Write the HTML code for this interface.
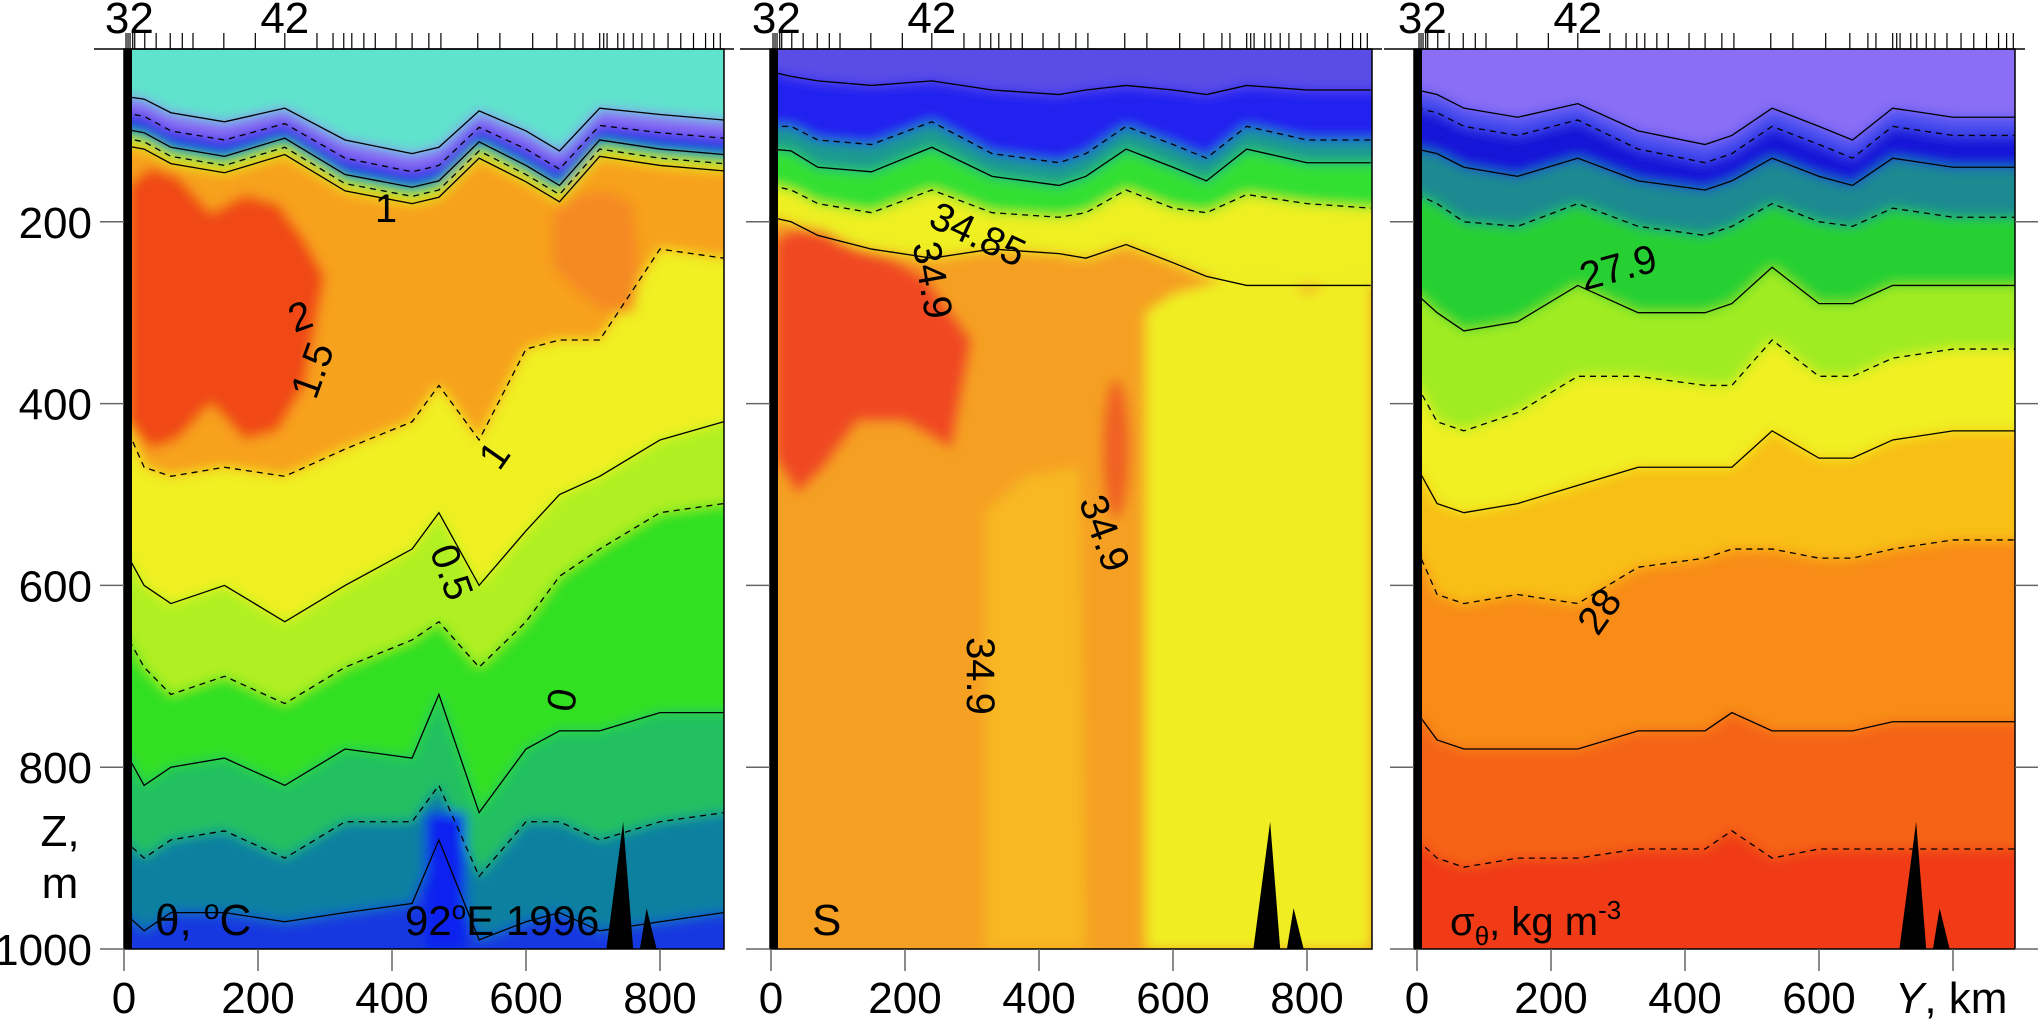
<!DOCTYPE html>
<html><head><meta charset="utf-8"><style>
html,body{margin:0;padding:0;background:#fff;width:2038px;height:1024px;overflow:hidden}
svg{display:block;position:absolute;left:0;top:0;font-family:"Liberation Sans",sans-serif}
</style></head><body>
<svg id="fig" width="2038" height="1024" viewBox="0 0 2038 1024">
<defs>
<filter id="soft" x="-5%" y="-5%" width="110%" height="110%"><feGaussianBlur stdDeviation="6"/></filter>
<clipPath id="c1"><rect x="124" y="49" width="600" height="900"/></clipPath>
<clipPath id="c2"><rect x="770" y="49" width="602" height="900"/></clipPath>
<clipPath id="c3"><rect x="1414" y="49" width="601" height="900"/></clipPath>
</defs>
<g id="root"></g>
<g id="labels">
<g font-size="44">
<text x="60" y="846" text-anchor="middle">Z,</text>
<text x="60" y="898" text-anchor="middle">m</text>
<text x="1895" y="1013"><tspan font-style="italic">Y</tspan>, km</text>
<text x="155" y="935">θ, <tspan font-size="28" dy="-16">o</tspan><tspan dy="16">C</tspan></text>
<text x="405" y="935" font-size="42">92<tspan font-size="26" dy="-16">o</tspan><tspan dy="16">E  1996</tspan></text>
<text x="812" y="935">S</text>
<text x="1450" y="935" font-size="40">σ<tspan font-size="26" dy="10">θ</tspan><tspan dy="-10">, kg m</tspan><tspan font-size="26" dy="-16">-3</tspan></text>
</g>
<g font-size="40">
<text x="386" y="222" text-anchor="middle">1</text>
<text x="300" y="330" text-anchor="middle" transform="rotate(-20 300 316)">2</text>
<text x="312" y="384" text-anchor="middle" transform="rotate(-70 312 370)">1.5</text>
<text x="494" y="469" text-anchor="middle" transform="rotate(-55 494 455)">1</text>
<text x="452" y="586" text-anchor="middle" transform="rotate(70 452 572)">0.5</text>
<text x="562" y="714" text-anchor="middle" transform="rotate(100 562 700)">0</text>
<text x="978" y="248" text-anchor="middle" transform="rotate(25 978 234)">34.85</text>
<text x="933" y="294" text-anchor="middle" transform="rotate(80 933 280)">34.9</text>
<text x="1105" y="547" text-anchor="middle" transform="rotate(70 1105 533)">34.9</text>
<text x="981" y="690" text-anchor="middle" transform="rotate(90 981 676)">34.9</text>
<text x="1618" y="281" text-anchor="middle" transform="rotate(-15 1618 267)">27.9</text>
<text x="1599" y="625" text-anchor="middle" transform="rotate(-55 1599 611)">28</text>
</g>
</g>
</svg>
<script>
// ---- data ----
const XS = [0,30,70,150,240,330,430,470,530,600,650,710,800,895];
const stations = [3,6,9,13,16,31,48,69,87,103,149,196,240,288,312,328,340,358,375,406,430,455,473,528,561,610,646,673,685,710,716,721,737,746,760,773,791,812,831,850,868,880,890];
const depthTicks = [200,400,600,800,1000];
const kmTicks = [0,200,400,600,800];

const thetaColors = ['#8a6cf5','#1a2ae6','#22d020','#e8f020','#f7a21a','#f0f020','#b0f020','#30e020','#20c060','#1080a0','#1838e0'];
const thetaLevels = [
 [62,65,80,90,75,110,125,118,78,100,122,75,82,88],
 [80,84,100,110,92,130,145,138,96,120,142,94,102,108],
 [98,102,118,128,108,148,162,155,112,138,160,110,120,126],
 [108,112,128,138,118,158,172,165,122,148,170,120,130,136],
 [116,120,136,146,126,166,180,173,130,156,178,128,138,144],
 [420,470,480,470,480,450,420,380,440,340,330,330,230,240],
 [560,600,620,600,640,600,560,520,600,540,500,480,440,420],
 [650,690,720,700,730,690,660,640,690,640,590,560,520,510],
 [780,820,800,790,820,780,790,720,850,780,760,760,740,740],
 [880,900,880,870,900,860,860,820,920,860,860,880,860,850],
 [960,980,960,960,970,960,950,880,990,970,960,980,970,960]
];
const thetaCoreKm = [5,40,80,130,180,230,270,300,270,230,180,130,80,40,5];
const thetaCoreZ  = [160,140,150,190,170,180,220,260,380,430,440,400,440,450,420];
const thetaEastKm = [640,680,720,760,770,760,720,680,640];
const thetaEastZ  = [190,170,165,180,260,300,300,280,250];

const salColors = ['#2222f0','#1a9a90','#30e030','#eef020','#f5a020'];
const salLevels = [
 [35,40,45,50,45,55,60,55,50,55,60,50,55,55],
 [95,95,110,115,90,125,135,125,95,115,130,95,110,110],
 [120,122,140,145,118,150,160,150,120,140,155,120,135,135],
 [160,165,180,190,165,190,195,190,165,185,190,170,180,185],
 [195,200,215,230,240,230,235,240,225,245,260,270,270,270]
];
const salCoreKm = [5,40,80,130,180,230,270,300,270,200,130,80,40,5];
const salCoreZ  = [220,205,210,230,240,260,300,330,450,420,420,470,500,460];
const salYellowKm = [560,600,700,760,800,895,895,560];
const salYellowZ  = [300,280,260,260,280,250,1000,1000];
const salLightKm = [320,380,460,470,460,320];
const salLightZ  = [520,480,470,1000,1000,1000];

const sigColors = ['#4a50f0','#1818d8','#1a8a90','#28d030','#a0ec20','#f0f020','#f8c018','#f88c14','#f56414','#f03a12'];
const sigLevels = [
 [55,60,75,85,70,100,115,105,75,95,110,75,85,85],
 [75,80,95,105,88,120,135,125,95,115,130,95,105,105],
 [120,125,140,150,130,155,165,155,130,150,160,130,140,140],
 [170,180,200,205,180,205,215,205,180,200,205,185,195,195],
 [280,300,320,310,270,300,300,290,250,290,290,270,270,270],
 [380,420,430,410,370,370,380,380,330,370,370,350,340,340],
 [470,510,520,510,490,470,470,470,430,460,460,440,430,430],
 [560,610,620,610,620,580,570,560,560,570,570,560,550,550],
 [740,770,780,780,780,760,760,740,760,760,760,750,750,750],
 [880,900,910,900,900,890,890,870,900,890,890,890,890,890]
];
const ridgeKm = [720,745,760,770,780,795];
const ridgeZ  = [1000,860,1000,1000,955,1000];

// ---- helpers ----
const NS='http://www.w3.org/2000/svg';
const root=document.getElementById('root');
const KM=0.67, Z0=40, ZS=0.909, TOP=49, BOT=949;
const Y=z=>Z0+ZS*z;
function el(tag,attrs,parent){const e=document.createElementNS(NS,tag);for(const k in attrs)e.setAttribute(k,attrs[k]);(parent||root).appendChild(e);return e;}
function layerD(p,d){let s=`M${p.X(-60)},${Y(d[0])}`;XS.forEach((k,i)=>s+=` L${p.X(k)},${Y(d[i])}`);s+=` L${p.X(960)},${Y(d[d.length-1])} L${p.X(960)},${Y(1020)} L${p.X(-60)},${Y(1020)} Z`;return s;}
function lineD(p,d){let s='';XS.forEach((k,i)=>s+=(i?' L':'M')+p.X(k)+','+Y(d[i]));return s;}
function polyD(p,ks,zs){return ks.map((k,i)=>(i?'L':'M')+p.X(k)+','+Y(zs[i])).join(' ')+' Z';}

const panels=[
 {id:1,x0:124,left:124,right:724,clip:'c1',bg:'#5fe3cc'},
 {id:2,x0:771,left:770,right:1372,clip:'c2',bg:'#5a4ee6'},
 {id:3,x0:1417,left:1414,right:2015,clip:'c3',bg:'#8a6ef5'}
];
panels.forEach(p=>p.X=k=>p.x0+KM*k);

function drawPanel(p,levels,colors,extra){
  const g=el('g',{'clip-path':`url(#${p.clip})`});
  
  
  const f=el('g',{filter:'url(#soft)'},g);
  el('rect',{x:p.left-20,y:TOP-30,width:p.right-p.left+40,height:BOT-TOP+50,fill:p.bg},f);
  levels.forEach((d,i)=>{
    const e=el('path',{d:layerD(p,d),fill:colors[i]},f);
    
    
  });
  extra(f);
  const lines=el('g',{fill:'none',stroke:'#000','stroke-width':1.3},g);
  levels.forEach((d,i)=>{
    const e=el('path',{d:lineD(p,d),'stroke-dasharray':i%2?'6 5':'none'},lines);
    
    
  });
  const w=el('rect',{x:p.left,y:TOP,width:8,height:BOT-TOP,fill:'#000'},g);
  
  
  const r=el('path',{d:polyD(p,ridgeKm,ridgeZ),fill:'#000'},g);
  
  
  const fr=el('rect',{x:p.left,y:TOP,width:p.right-p.left,height:BOT-TOP,fill:'none',stroke:'#000','stroke-width':1.5});
  
  
  stations.forEach(k=>{
    const t=el('line',{x1:p.X(k),x2:p.X(k),y1:33,y2:TOP,stroke:'#000','stroke-width':1.2});
    
    
  });
  el('line',{x1:p.left-30,x2:p.right+10,y1:TOP,y2:TOP,stroke:'#000','stroke-width':1.5});
  [['32',8],['42',240]].forEach(([s,k])=>{
    const t=el('text',{x:p.X(k),y:33,'font-size':44,'text-anchor':'middle'});t.textContent=s;
    
    
  });
  depthTicks.forEach(z=>{
    const t=el('line',{x1:p.left-24,x2:p.left,y1:Y(z),y2:Y(z),stroke:'#666','stroke-width':1.5});
    
    
  });
  kmTicks.forEach(k=>{
    const t=el('line',{x1:p.X(k),x2:p.X(k),y1:BOT,y2:BOT+22,stroke:'#666','stroke-width':1.5});
    
    
    if(p.id===3&&k===800)return;
    const l=el('text',{x:p.X(k),y:1013,'font-size':44,'text-anchor':'middle'});l.textContent=k;
    
    
  });
}

drawPanel(panels[0],thetaLevels,thetaColors,f=>{
  el('path',{d:polyD(panels[0],thetaCoreKm,thetaCoreZ),fill:'#f04a18'},f);
  el('path',{d:polyD(panels[0],thetaEastKm,thetaEastZ),fill:'#f58a20'},f);
  el('rect',{x:panels[0].X(450),y:Y(850),width:40,height:Y(1000)-Y(850),fill:'#1020f0'},f);
});
drawPanel(panels[1],salLevels,salColors,f=>{
  const p=panels[1];
  el('path',{d:polyD(p,salLightKm,salLightZ),fill:'#f8b820'},f);
  el('path',{d:polyD(p,salYellowKm,salYellowZ),fill:'#f0ee20'},f);
  el('path',{d:polyD(p,salCoreKm,salCoreZ),fill:'#f04820'},f);
  el('ellipse',{cx:p.X(515),cy:Y(450),rx:14,ry:70,fill:'#f06020'},f);
});
drawPanel(panels[2],sigLevels,sigColors,f=>{});
depthTicks.forEach(z=>{
  const t=el('line',{x1:2015,x2:2038,y1:Y(z),y2:Y(z),stroke:'#666','stroke-width':1.5});
  
  
});
depthTicks.forEach(z=>{
  const t=el('text',{x:92,y:Y(z)+16,'font-size':44,'text-anchor':'end'});t.textContent=z;
  
  
});
</script>
</body></html>
